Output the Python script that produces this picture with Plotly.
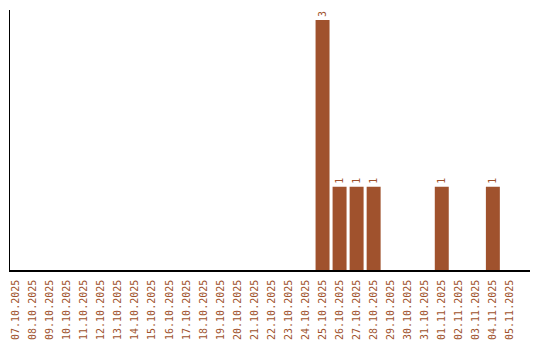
import plotly.graph_objects as go

dates = ["07.10.2025", "08.10.2025", "09.10.2025", "10.10.2025", "11.10.2025",
         "12.10.2025", "13.10.2025", "14.10.2025", "15.10.2025", "16.10.2025",
         "17.10.2025", "18.10.2025", "19.10.2025", "20.10.2025", "21.10.2025",
         "22.10.2025", "23.10.2025", "24.10.2025", "25.10.2025", "26.10.2025",
         "27.10.2025", "28.10.2025", "29.10.2025", "30.10.2025", "31.10.2025",
         "01.11.2025", "02.11.2025", "03.11.2025", "04.11.2025", "05.11.2025"]
counts = [0, 0, 0, 0, 0, 0, 0, 0, 0, 0, 0, 0, 0, 0, 0, 0, 0, 0,
          3, 1, 1, 1, 0, 0, 0, 1, 0, 0, 1, 0]

color = "#A0522D"
labels = [str(v) if v > 0 else "" for v in counts]

fig = go.Figure(go.Bar(
    x=dates, y=counts, marker_color=color, marker_line_width=0,
    text=labels, textposition="outside", textangle=-90,
    textfont=dict(family="DejaVu Sans Mono", size=10, color=color),
    cliponaxis=False, constraintext="none",
))
fig.update_layout(
    width=540, height=340,
    margin=dict(l=10, r=10, t=10, b=70),
    paper_bgcolor="white", plot_bgcolor="white",
    bargap=0.18, showlegend=False,
    font=dict(family="DejaVu Sans Mono", size=10, color=color),
)
fig.update_xaxes(
    type="category", range=[-0.35, 30.18], tickangle=-90,
    showline=True, linecolor="black", linewidth=1.5, showgrid=False,
    ticks="", ticklabelstandoff=4, automargin=False,
    tickfont=dict(family="DejaVu Sans Mono", size=10, color=color),
)
fig.update_yaxes(
    range=[0, 3.12], showline=True, linecolor="black", linewidth=1,
    showgrid=False, showticklabels=False, ticks="", zeroline=False,
    automargin=False,
)
fig.write_html("out.html")
